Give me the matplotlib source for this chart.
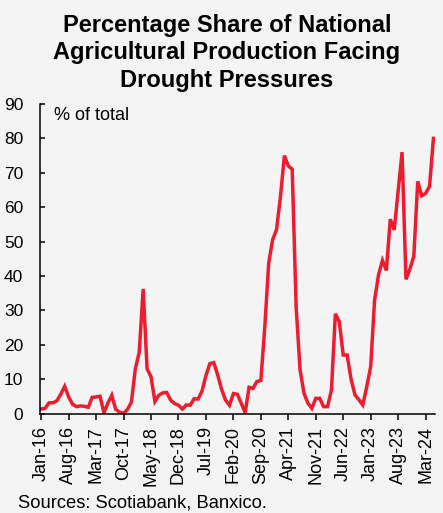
import numpy as np
import matplotlib.pyplot as plt

# Monthly share (% of total), Jan-16 .. May-24
share = [1.3, 1.5, 3.1, 3.1, 3.7, 5.6, 7.9, 4.8, 2.7, 2.0,
         2.2, 2.1, 1.8, 4.7, 4.8, 5.0, 0.2, 3.0, 5.3, 1.2,
         0.4, 0.0, 1.2, 3.3, 13.0, 17.8, 36.2, 13.0, 10.7, 3.5,
         5.3, 6.0, 6.1, 3.9, 2.9, 2.4, 1.3, 2.5, 2.4, 4.3,
         4.2, 6.5, 11.0, 14.5, 14.8, 11.2, 7.0, 3.9, 2.4, 5.8,
         5.6, 3.0, 0.2, 7.6, 7.3, 9.3, 9.6, 25.0, 43.7, 50.5,
         53.5, 63.0, 75.0, 72.0, 71.0, 31.0, 12.7, 5.9, 3.0, 1.5,
         4.4, 4.4, 2.0, 2.0, 6.8, 29.0, 26.7, 17.0, 17.0, 10.0,
         5.4, 4.0, 2.5, 7.8, 13.6, 33.0, 40.3, 44.5, 41.6, 56.5,
         53.4, 64.6, 76.0, 39.0, 42.0, 45.7, 67.5, 63.3, 64.0, 66.0,
         80.0]
months = np.arange(len(share))

tick_labels = ["Jan-16", "Aug-16", "Mar-17", "Oct-17", "May-18", "Dec-18",
               "Jul-19", "Feb-20", "Sep-20", "Apr-21", "Nov-21", "Jun-22",
               "Jan-23", "Aug-23", "Mar-24"]
tick_pos = np.arange(len(tick_labels)) * 7

bg = "#f3f4f3"
red = "#ed1c2e"

plt.rcParams['font.family'] = ['Liberation Sans', 'DejaVu Sans']

W, H = 443, 513
fig = plt.figure(figsize=(W / 100, H / 100), dpi=100, facecolor=bg)
ax = fig.add_axes([40 / W, (H - 413.5) / H, (435 - 40) / W, (413.5 - 104) / H])
ax.set_facecolor(bg)

ax.plot(months, share, color=red, lw=2.5, solid_joinstyle="miter")

ax.set_xlim(-0.3, 100.4)
ax.set_ylim(0, 90)
ax.set_yticks(np.arange(0, 91, 10))
ax.set_xticks(tick_pos)
ax.set_xticklabels(tick_labels, rotation=90)

for s in ["top", "right"]:
    ax.spines[s].set_visible(False)
for s in ["left", "bottom"]:
    ax.spines[s].set_linewidth(1.1)

ax.tick_params(axis="y", direction="in", length=3.5, width=1.1,
               labelsize=12.5, pad=12)
ax.tick_params(axis="x", direction="out", length=4, width=1.1,
               labelsize=13, pad=5)

ax.text(14 / 395, 0.99, "% of total", transform=ax.transAxes,
        fontsize=13, va="top", ha="left")

fig.text(227 / W, 1 - 14 / H,
         "Percentage Share of National\nAgricultural Production Facing\nDrought Pressures",
         ha="center", va="top", fontsize=17, fontweight="bold",
         linespacing=1.25)

fig.text(18 / W, (H - 508) / H, "Sources: Scotiabank, Banxico.",
         fontsize=13.2, ha="left", va="baseline")

fig.savefig("out.png", dpi=100, facecolor=bg)
